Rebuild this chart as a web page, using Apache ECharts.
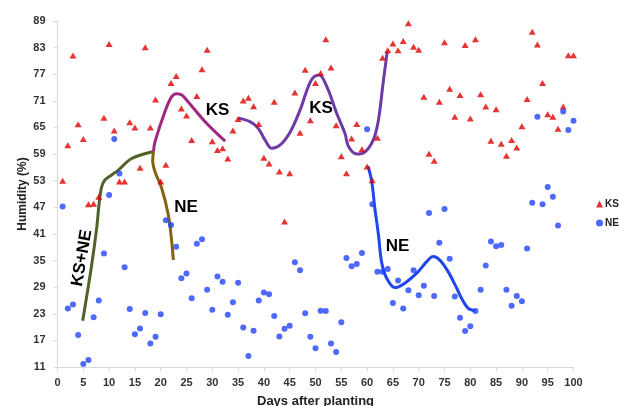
<!DOCTYPE html>
<html>
<head>
<meta charset="utf-8">
<script src="https://cdn.jsdelivr.net/npm/echarts@6/dist/echarts.min.js"></script>
<style>html,body{margin:0;padding:0;background:#fff}#c{width:620px;height:406px}</style>
</head>
<body>
<div id="c"></div>
<script>
// Days 1..100
const days = Array.from({length: 100}, (_, i) => i + 1);
const ksValues = [53,61,81.2,65.7,62.4,47.7,47.8,49.4,67.2,83.8,64.3,52.8,52.8,66.2,65,55.9,83.1,65,71.3,52.8,
  56.6,75,76.6,69.3,67.7,62.2,72.1,78.1,82.5,61.9,59.9,60.3,58,64.3,66.9,71.1,71.7,69.8,65.8,58.2,
  56.9,70.8,55.1,43.8,54.7,72.9,63.8,78,66.6,75,77.3,84.9,78.5,65.5,58.5,54.7,62.5,65.8,60.1,56.2,
  53.1,62.7,80.7,82.4,83.9,82.4,84.5,88.5,83.2,82.5,71.9,59.1,57.5,70.8,84.2,73.7,67.4,72.3,83.6,67,
  84.9,72.5,69.7,62,69.1,61.3,58.6,62.2,60.5,65.3,71.4,86.6,83.7,75,68,67.4,64.7,69.7,81.3,81.3];
const neValues = [47.2,24.2,25.1,18.2,11.7,12.6,22.2,26,36.6,49.8,62.4,54.6,33.5,24.1,18.4,19.7,23.2,16.3,17.8,22.9,
  44.1,43,38.1,31,32.1,26.5,38.8,39.8,28.4,23.9,31.4,30.2,22.8,25.6,30,19.9,13.5,19.2,26,27.8,
  27.4,22.5,17.9,19.6,20.3,34.6,32.8,23.1,17.8,15.2,23.7,23.6,16.3,14.4,21.1,35.6,33.7,34.2,36.7,64.6,
  47.7,32.5,32.5,33.1,25.4,30.5,24.2,28.3,32.8,27.2,29.3,45.7,27,39,46.6,35.4,26.9,22.1,19.1,20.2,
  23.6,28.4,33.9,39.3,38.2,38.5,28.4,24.8,27,25.8,37.7,48,67.4,47.7,51.6,49.4,42.9,68.6,64.4,66.5];
const xTicks = [0,5,10,15,20,25,30,35,40,45,50,55,60,65,70,75,80,85,90,95,100];
const yTicks = [11,17,23,29,35,41,47,53,59,65,71,77,83,89];

// Hand-drawn trend curves (day, humidity)
const ksneCurve = [[4.88,21.4],[6.62,34.0],[7.59,42.3],[8.11,48.3],[8.56,51.6],[9.21,53.2],[10.5,54.3],[11.79,55.4],[14.37,58.0],[18.6,59.6]];
const neCurve1 = [[18.6,59.6],[18.45,57.5],[18.9,55.0],[20.19,51.3],[21.48,45.3],[22.13,39.3],[22.45,35.1]];
const ksCurve1 = [[18.6,59.6],[18.9,61.8],[20.8,68.5],[22.1,71.9],[23.1,72.6],[24.1,72.3],[25.3,70.8],[28.6,66.3],[32.5,61.9]];
const ksCurve2 = [[35.04,67.1],[37.3,66.3],[38.9,64.8],[40.2,62.2],[41.5,60.3],[43.1,61.0],[45.1,64.0],[47.0,68.9],[48.6,74.2],[49.6,76.3],[50.7,76.8],[52.2,74.2],[54.1,68.2],[55.7,63.7],[56.4,60.7],[58.0,59.0],[59.6,59.5],[61.2,62.2],[62.2,66.7],[63.1,75.0],[63.9,82.1]];
const neCurve2 = [[60.2,56.2],[60.9,52.8],[61.5,46.8],[62.2,40.8],[62.8,34.7],[63.8,31.0],[65.4,28.9],[67.3,29.9],[69.9,32.5],[71.5,34.7],[72.8,35.9],[74.1,35.1],[75.7,32.5],[77.4,28.7],[78.3,26.5],[79.6,24.2],[80.9,23.7]];

const FONT = 'Liberation Sans, Arial, sans-serif';
const chart = echarts.init(document.getElementById('c'));

function curve(data, color) {
  return {type: 'line', data: data, smooth: 0.35, symbol: 'none', z: 1,
    lineStyle: {color: color, width: 3}, silent: true, legendHoverLink: false};
}

chart.setOption({
  animation: false,
  grid: {left: 57.5, right: 46.5, top: 21, bottom: 39, outerBoundsMode: 'none', containLabel: false},
  legend: {
    orient: 'vertical', left: 591, top: 194, itemWidth: 7, itemHeight: 7, itemGap: 9,
    data: [{name: 'KS', icon: 'triangle'}, {name: 'NE', icon: 'circle'}],
    textStyle: {fontFamily: FONT, fontWeight: 'bold', fontSize: 10, color: '#222', padding: [0,0,0,-3]}
  },
  xAxis: {
    type: 'value', min: 0, max: 100, interval: 5,
    name: 'Days after planting', nameLocation: 'middle', nameGap: 28,
    nameTextStyle: {fontFamily: FONT, fontWeight: 'bold', fontSize: 13, color: '#222'},
    axisLine: {lineStyle: {color: '#d9d9d9', width: 1}},
    axisTick: {show: true, length: 4, lineStyle: {color: '#d9d9d9'}},
    axisLabel: {fontFamily: FONT, fontWeight: 'bold', fontSize: 11, color: '#333', margin: 10,
      customValues: xTicks},
    splitLine: {show: false}
  },
  yAxis: {
    type: 'value', min: 11, max: 89,
    name: 'Humidity (%)', nameLocation: 'middle', nameGap: 29, nameMoveOverlap: false,
    nameTextStyle: {fontFamily: FONT, fontWeight: 'bold', fontSize: 12, color: '#222'},
    axisLine: {show: true, lineStyle: {color: '#d9d9d9', width: 1}},
    axisTick: {show: true, length: 4, lineStyle: {color: '#d9d9d9'}, customValues: yTicks},
    axisLabel: {fontFamily: FONT, fontWeight: 'bold', fontSize: 11, color: '#333', margin: 12,
      customValues: yTicks},
    splitLine: {show: false}
  },
  series: [
    curve(ksneCurve, '#4f6228'),
    curve(neCurve1, '#7f6512'),
    curve(ksCurve1, '#a0267e'),
    curve(ksCurve2, '#6e3aa6'),
    curve(neCurve2, '#2146f0'),
    {name: 'KS', type: 'scatter', symbol: 'triangle', symbolSize: [7, 6], z: 3,
      itemStyle: {color: '#e00000'}, data: days.map((d, i) => [d, ksValues[i]])},
    {name: 'NE', type: 'scatter', symbol: 'circle', symbolSize: 6, z: 3,
      itemStyle: {color: '#2244ff'}, data: days.map((d, i) => [d, neValues[i]])}
  ],
  graphic: [
    {type: 'text', x: 82, y: 258, rotation: 80 * Math.PI / 180, z: 10,
      style: {text: 'KS+NE', font: 'bold 17px ' + FONT, fill: '#000', align: 'center', verticalAlign: 'middle'}},
    {type: 'text', x: 186, y: 207.5, z: 10,
      style: {text: 'NE', font: 'bold 17px ' + FONT, fill: '#000', align: 'center', verticalAlign: 'middle'}},
    {type: 'text', x: 217.5, y: 110, z: 10,
      style: {text: 'KS', font: 'bold 17px ' + FONT, fill: '#000', align: 'center', verticalAlign: 'middle'}},
    {type: 'text', x: 321, y: 108.5, z: 10,
      style: {text: 'KS', font: 'bold 17px ' + FONT, fill: '#000', align: 'center', verticalAlign: 'middle'}},
    {type: 'text', x: 397.5, y: 246, z: 10,
      style: {text: 'NE', font: 'bold 17px ' + FONT, fill: '#000', align: 'center', verticalAlign: 'middle'}}
  ]
});
</script>
</body>
</html>
